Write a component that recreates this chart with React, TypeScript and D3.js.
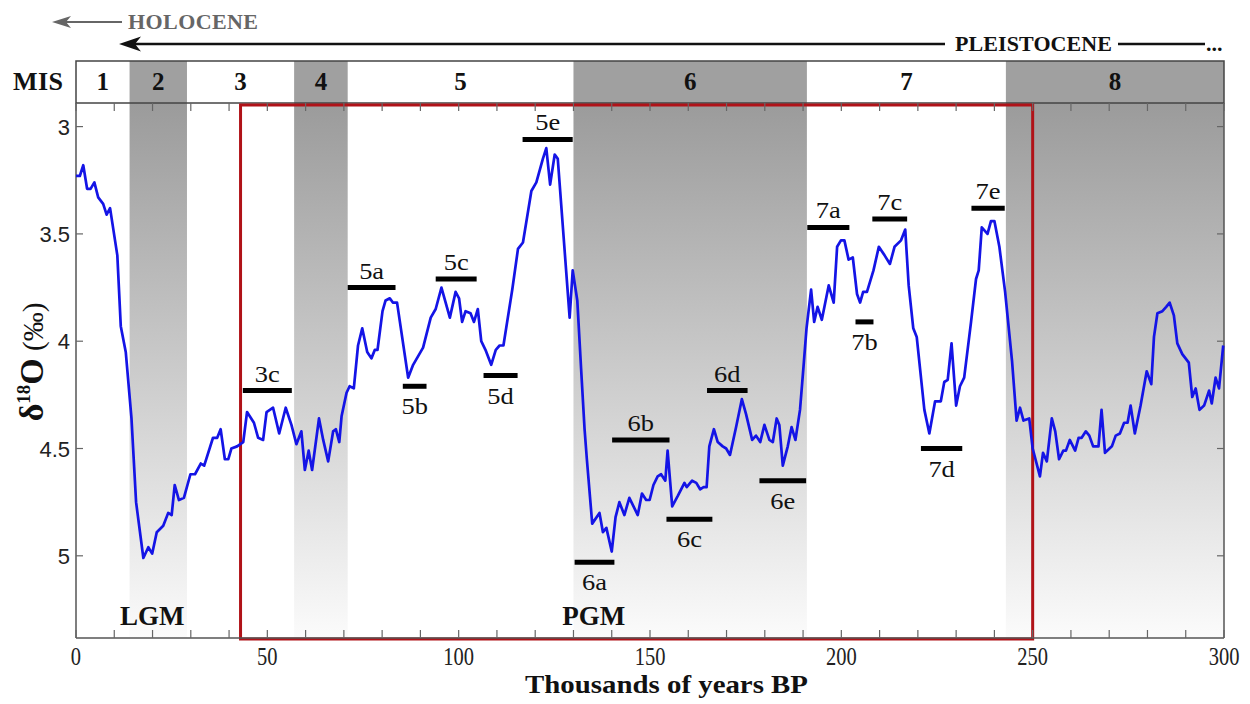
import * as d3 from 'd3';

// benthic d18O record (ka BP, per mil)
const ages = [
  0, 1.0, 1.9, 2.9, 3.8, 4.8, 5.8, 7.1, 8.0, 8.9, 10.8, 11.7, 13.0, 14.5, 15.7, 17.6, 18.9, 19.9,
  21.1, 22.8, 24.1, 25.0, 25.8, 26.9, 28.2, 29.9, 31.1, 32.6, 33.5, 35.8, 36.9, 37.8, 38.9, 39.8,
  40.6, 42.1, 43.7, 44.7, 46.5, 47.6, 48.9, 49.8, 51.5, 53.1, 54.8, 56.3, 57.6, 58.9, 59.8, 60.8,
  61.7, 63.5, 64.6, 65.9, 67.2, 67.9, 68.8, 69.4, 70.7, 71.5, 72.6, 73.7, 74.8, 76.1, 77.2, 78.1,
  78.8, 80.1, 80.9, 82.0, 82.8, 83.9, 86.8, 88.1, 90.7, 92.7, 94.0, 95.5, 97.7, 99.2, 100.1, 100.9,
  101.8, 103.1, 104.0, 105.0, 105.9, 107.0, 108.5, 109.7, 110.7, 111.7, 114.0, 115.5, 116.8, 119.0,
  120.3, 122.0, 122.9, 123.9, 125.1, 125.9, 129.0, 129.8, 131.0, 132.0, 132.9, 133.5, 134.9, 136.8,
  137.7, 138.6, 140.0, 141.0, 142.0, 143.3, 144.6, 146.8, 147.9, 149.0, 149.9, 150.9, 152.0, 152.9,
  154.0, 154.6, 155.8, 157.3, 159.0, 159.6, 161.0, 162.1, 163.1, 164.0, 164.8, 165.5, 166.7, 167.7,
  169.0, 169.9, 170.9, 172.5, 174.0, 175.1, 176.7, 177.7, 178.8, 179.9, 181.2, 182.1, 183.1, 183.8,
  184.7, 186.0, 187.0, 188.0, 189.2, 190.2, 190.9, 192.1, 192.9, 193.8, 194.9, 196.7, 198.0, 198.9,
  199.9, 200.8, 201.9, 203.0, 204.1, 204.9, 205.7, 206.7, 208.4, 209.8, 211.3, 212.7, 213.9, 215.6,
  216.7, 217.6, 218.8, 219.7, 221.7, 223.0, 224.5, 226.0, 226.9, 227.8, 228.8, 230.0, 231.0, 232.1,
  233.9, 235.2, 235.9, 236.7, 238.2, 239.1, 240.0, 241.3, 242.8, 244.6, 245.8, 246.7, 247.6, 249.1,
  250.0, 251.9, 252.7, 253.7, 255.0, 255.9, 256.9, 258.0, 258.7, 259.7, 261.1, 262.0, 262.8, 263.9,
  264.8, 265.8, 267.2, 268.0, 268.9, 270.7, 271.7, 272.8, 273.9, 274.8, 275.6, 276.7, 278.2, 279.8,
  281.0, 281.7, 282.6, 283.9, 284.9, 285.8, 286.9, 287.8, 289.1, 290.8, 291.7, 292.6, 293.6, 294.8,
  296.1, 296.8, 297.8, 298.7, 299.8,
];
const d18O = [
  3.23, 3.23, 3.18, 3.29, 3.29, 3.26, 3.33, 3.36, 3.41, 3.38, 3.60, 3.93, 4.05, 4.36, 4.75, 5.01, 4.96, 4.99,
  4.89, 4.86, 4.80, 4.81, 4.67, 4.74, 4.73, 4.62, 4.62, 4.57, 4.58, 4.45, 4.45, 4.41, 4.55, 4.55,
  4.50, 4.49, 4.47, 4.33, 4.38, 4.45, 4.46, 4.33, 4.31, 4.43, 4.31, 4.39, 4.48, 4.42, 4.60, 4.51,
  4.60, 4.36, 4.46, 4.56, 4.42, 4.41, 4.47, 4.35, 4.24, 4.21, 4.22, 4.02, 3.94, 4.05, 4.08, 4.04,
  4.04, 3.86, 3.81, 3.80, 3.82, 3.82, 4.17, 4.11, 4.03, 3.89, 3.85, 3.75, 3.89, 3.77, 3.80, 3.91,
  3.86, 3.87, 3.91, 3.85, 4.00, 4.04, 4.11, 4.04, 4.02, 4.02, 3.76, 3.57, 3.54, 3.30,
  3.26, 3.15, 3.10, 3.27, 3.13, 3.15, 3.89, 3.67, 3.81, 4.13, 4.41, 4.55, 4.85, 4.80,
  4.89, 4.87, 4.98, 4.82, 4.75, 4.81, 4.73, 4.81, 4.71, 4.74, 4.74, 4.67, 4.63, 4.62,
  4.65, 4.51, 4.77, 4.72, 4.66, 4.68, 4.65, 4.66, 4.69, 4.68, 4.68, 4.49, 4.41, 4.47,
  4.49, 4.50, 4.53, 4.40, 4.27, 4.34, 4.46, 4.44, 4.47, 4.39, 4.46, 4.47, 4.36, 4.39,
  4.58, 4.49, 4.40, 4.46, 4.32, 4.10, 3.94, 3.76, 3.91, 3.84, 3.90, 3.74, 3.82, 3.56,
  3.53, 3.53, 3.62, 3.61, 3.78, 3.82, 3.77, 3.77, 3.67, 3.56, 3.60, 3.64, 3.56, 3.53,
  3.48, 3.74, 3.94, 3.98, 4.32, 4.43, 4.28, 4.28, 4.19, 4.18, 4.01, 4.30, 4.21, 4.17,
  3.91, 3.71, 3.67, 3.47, 3.50, 3.44, 3.44, 3.56, 3.77, 4.09, 4.37, 4.31, 4.37, 4.36,
  4.50, 4.63, 4.52, 4.56, 4.36, 4.42, 4.55, 4.51, 4.51, 4.46, 4.51, 4.45, 4.45, 4.42,
  4.44, 4.49, 4.49, 4.32, 4.52, 4.49, 4.44, 4.43, 4.38, 4.38, 4.30, 4.43, 4.30, 4.14,
  4.20, 3.98, 3.87, 3.86, 3.84, 3.82, 3.88, 4.01, 4.06, 4.10, 4.26, 4.22, 4.32, 4.30,
  4.23, 4.29, 4.17, 4.22, 4.02,
];

// marine isotope stages
const misBounds = [0, 14, 29, 57, 71, 130, 191, 243, 300];
const misLabels = ['1', '2', '3', '4', '5', '6', '7', '8'];

// substages (bars)
const subLabels = ['3c', '5a', '5b', '5c', '5d', '5e', '6a', '6b', '6c', '6d', '6e', '7a', '7b', '7c', '7d', '7e'];
const subStart = [43.6, 71.0, 85.4, 94.0, 106.5, 116.7, 130.3, 140.1, 154.3, 164.9, 178.6, 191.1, 203.7, 208.1, 220.8, 234.0];
const subEnd = [56.4, 83.5, 91.6, 104.7, 115.4, 129.8, 140.7, 155.1, 166.3, 175.5, 190.8, 202.1, 208.4, 217.2, 231.6, 242.7];
const subValue = [4.23, 3.75, 4.21, 3.71, 4.16, 3.06, 5.03, 4.46, 4.83, 4.23, 4.65, 3.47, 3.91, 3.43, 4.5, 3.38];
const subAbove = [true, true, false, true, false, true, false, true, false, true, false, true, false, true, false, true];

const maxLabels = ['LGM', 'PGM'];
const maxAges = [19.9, 135.3];

const boxRange = [43, 250];

const yTicks = [3, 3.5, 4, 4.5, 5];

const W = 1250;
const H = 704;
const L = 76, R = 1224, T = 103, B = 638;
const bandTop = 61;
const serif = '"Liberation Serif", "Times New Roman", serif';
const sans = '"Liberation Sans", Arial, sans-serif';

export default function App() {
  const x = d3.scaleLinear().domain([0, 300]).range([L, R]);
  const y = d3.scaleLinear().domain([2.89, 5.383]).range([T, B]);

  const line = d3.line<number>()
    .x((_, i) => x(ages[i]))
    .y(d => y(d));

  const minorTicks = d3.range(0, 301, 10);
  const majorTicks = x.ticks(6);

  return (
    <div style={{ position: 'absolute', left: 0, top: 0 }}>
      <svg width={W} height={H} style={{ display: 'block', background: '#fff' }} fontFamily={serif}>
        <defs>
          <linearGradient id="glacial" x1="0" y1="0" x2="0" y2="1">
            <stop offset="0%" stopColor="#9b9b9b" />
            <stop offset="100%" stopColor="#fbfbfb" />
          </linearGradient>
        </defs>

        {/* HOLOCENE / PLEISTOCENE arrows */}
        <line x1={62} x2={122} y1={22} y2={22} stroke="#666" strokeWidth={2} />
        <path d="M52,22 L71,16 L66,22 L71,28 Z" fill="#666" />
        <text x={128} y={29} fontSize={22} fontWeight="bold" fill="#666" textLength={130}>HOLOCENE</text>

        <line x1={132} x2={945} y1={44} y2={44} stroke="#111" strokeWidth={2.5} />
        <path d="M119,44 L141,36.5 L135,44 L141,51.5 Z" fill="#111" />
        <text x={955} y={51} fontSize={22} fontWeight="bold" fill="#111" textLength={157}>PLEISTOCENE</text>
        <line x1={1118} x2={1205} y1={44} y2={44} stroke="#111" strokeWidth={2.5} />
        <text x={1206} y={51} fontSize={22} fontWeight="bold" fill="#111">...</text>

        {/* MIS band */}
        {misLabels.map((lab, i) => (
          <g key={lab}>
            {i % 2 === 1 && (
              <>
                <rect x={x(misBounds[i])} y={bandTop} width={x(misBounds[i + 1]) - x(misBounds[i])}
                  height={T - bandTop} fill="#a0a0a0" />
                <rect x={x(misBounds[i])} y={T} width={x(misBounds[i + 1]) - x(misBounds[i])}
                  height={B - T} fill="url(#glacial)" />
              </>
            )}
            <text x={(x(misBounds[i]) + x(misBounds[i + 1])) / 2} y={90} fontSize={25}
              fontWeight="bold" textAnchor="middle" fill="#111">{lab}</text>
          </g>
        ))}
        <rect x={L} y={bandTop} width={R - L} height={T - bandTop} fill="none" stroke="#444" strokeWidth={1.5} />
        <text x={13} y={90} fontSize={26} fontWeight="bold" fill="#111" textLength={50}>MIS</text>

        {/* red box */}
        <rect x={x(boxRange[0])} y={T + 2} width={x(boxRange[1]) - x(boxRange[0])} height={B - T - 1}
          fill="none" stroke="#b01218" strokeWidth={3} />

        {/* axes frame + ticks */}
        <line x1={L} x2={L} y1={T} y2={B} stroke="#555" strokeWidth={1.5} />
        <line x1={R} x2={R} y1={T} y2={B} stroke="#555" strokeWidth={1.5} />
        <line x1={L} x2={R} y1={B} y2={B} stroke="#555" strokeWidth={1.5} />
        {minorTicks.map(t => (
          <g key={'xt' + t}>
            <line x1={x(t)} x2={x(t)} y1={B} y2={B - 8} stroke="#666" strokeWidth={1.2} />
            <line x1={x(t)} x2={x(t)} y1={T} y2={T + 8} stroke="#666" strokeWidth={1.2} />
          </g>
        ))}
        {majorTicks.map(t => (
          <text key={'xl' + t} transform={`translate(${x(t)},665) scale(0.82,1)`} fontSize={25}
            textAnchor="middle" fill="#222">{t}</text>
        ))}
        {yTicks.map(t => (
          <g key={'yt' + t}>
            <line x1={L} x2={L + 7} y1={y(t)} y2={y(t)} stroke="#666" strokeWidth={1.2} />
            <line x1={R} x2={R - 7} y1={y(t)} y2={y(t)} stroke="#666" strokeWidth={1.2} />
            <text x={70} y={y(t) + 8} fontSize={22} fontFamily={sans} textAnchor="end" fill="#222">{t}</text>
          </g>
        ))}

        {/* substage bars and labels */}
        {subLabels.map((lab, i) => {
          const yy = y(subValue[i]);
          const cx = (x(subStart[i]) + x(subEnd[i])) / 2;
          return (
            <g key={lab}>
              <line x1={x(subStart[i])} x2={x(subEnd[i])} y1={yy} y2={yy} stroke="#000" strokeWidth={5} />
              <text transform={`translate(${cx},${subAbove[i] ? yy - 9 : yy + 28}) scale(1.15,1)`}
                fontSize={23} textAnchor="middle" fill="#111">{lab}</text>
            </g>
          );
        })}

        {/* glacial maxima */}
        {maxLabels.map((lab, i) => (
          <text key={lab} x={x(maxAges[i])} y={625} fontSize={27} fontWeight="bold"
            textAnchor="middle" fill="#111">{lab}</text>
        ))}

        {/* curve */}
        <path d={line(d18O) || ''} fill="none" stroke="#1414e6" strokeWidth={2.7} strokeLinejoin="round" />

        {/* axis titles */}
        <text x={525} y={693} fontSize={25} fontWeight="bold" fill="#111" textLength={283}
          lengthAdjust="spacingAndGlyphs">Thousands of years BP</text>
        <text transform="translate(43,362) rotate(-90)" textAnchor="middle" fill="#111" fontWeight="bold" fontSize={34}>
          δ<tspan fontSize={19} dy={-13}>18</tspan><tspan dy={13}>O</tspan>
          <tspan fontWeight="normal" fontSize={29}>{' (‰)'}</tspan>
        </text>
      </svg>
    </div>
  );
}
